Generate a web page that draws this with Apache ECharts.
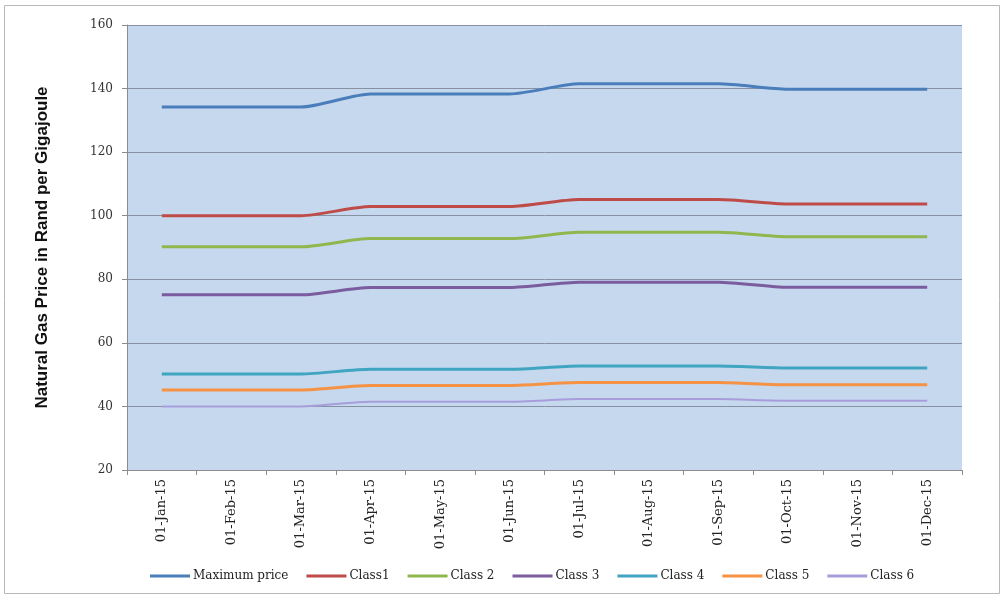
<!DOCTYPE html>
<html><head><meta charset="utf-8">
<script src="https://cdn.jsdelivr.net/npm/echarts@6/dist/echarts.min.js"></script>
<style>html,body{margin:0;padding:0;background:#fff}#c{width:1006px;height:595px}</style>
</head><body><div id="c"></div>
<script>
const categories = ['01-Jan-15','01-Feb-15','01-Mar-15','01-Apr-15','01-May-15','01-Jun-15','01-Jul-15','01-Aug-15','01-Sep-15','01-Oct-15','01-Nov-15','01-Dec-15'];
const maximumPrice = [134.2,134.2,134.2,138.3,138.3,138.3,141.5,141.5,141.5,139.8,139.8,139.8];
const class1 = [100,100,100,102.9,102.9,102.9,105.1,105.1,105.1,103.7,103.7,103.7];
const class2 = [90.2,90.2,90.2,92.8,92.8,92.8,94.8,94.8,94.8,93.4,93.4,93.4];
const class3 = [75.1,75.1,75.1,77.4,77.4,77.4,79.1,79.1,79.1,77.5,77.5,77.5];
const class4 = [50.2,50.2,50.2,51.7,51.7,51.7,52.7,52.7,52.7,52.1,52.1,52.1];
const class5 = [45.2,45.2,45.2,46.6,46.6,46.6,47.5,47.5,47.5,46.8,46.8,46.8];
const class6 = [40.0,40.0,40.0,41.5,41.5,41.5,42.3,42.3,42.3,41.8,41.8,41.8];
const seriesNames = ['Maximum price','Class1','Class 2','Class 3','Class 4','Class 5','Class 6'];
const seriesData = [maximumPrice,class1,class2,class3,class4,class5,class6];
const colors = ['#4a7ebb','#be4b48','#8fb74e','#7a5c9f','#3fa5c0','#f59243','#a79ddb'];
const widths = [3,3,3,3,3,3,2];
const yTicks = {min:20,max:160,interval:20};
const font = '"DejaVu Serif","Liberation Serif",serif';

const chart = echarts.init(document.getElementById('c'), null, {renderer:'canvas'});
chart.setOption({
  animation:false,
  color:colors,
  graphic:[{type:'rect',shape:{x:4.5,y:5.5,width:995,height:588},style:{fill:'none',stroke:'#b8b8b8',lineWidth:1},z:-1}],
  grid:{left:127,right:44,top:25,bottom:125,show:true,backgroundColor:'#c6d8ee',borderWidth:0},
  legend:{
    left:145,bottom:8,itemWidth:40,itemHeight:3,itemGap:18,icon:'rect',
    textStyle:{fontFamily:font,fontSize:12,color:'#222',padding:[0,0,0,-2]},
    data:seriesNames
  },
  xAxis:{
    type:'category',data:categories,boundaryGap:true,
    axisLine:{show:true,lineStyle:{color:'#8c8c8c'}},
    axisTick:{show:true,length:5,alignWithLabel:false,lineStyle:{color:'#8c8c8c'}},
    axisLabel:{rotate:90,interval:0,fontFamily:font,fontSize:13,color:'#222',margin:9}
  },
  yAxis:{
    type:'value',min:yTicks.min,max:yTicks.max,interval:yTicks.interval,
    name:'Natural Gas Price in Rand per Gigajoule',nameLocation:'middle',nameGap:76,nameRotate:90,
    nameTextStyle:{fontFamily:'"Liberation Sans","DejaVu Sans",sans-serif',fontSize:17,fontWeight:'bold',color:'#111'},
    axisLine:{show:true,lineStyle:{color:'#8c8c8c'}},
    axisTick:{show:true,length:5,lineStyle:{color:'#8c8c8c'}},
    axisLabel:{fontFamily:font,fontSize:12,color:'#333',margin:14},
    splitLine:{show:true,lineStyle:{color:'#8692a3',width:1}}
  },
  series:seriesNames.map((n,i)=>({
    name:n,type:'line',data:seriesData[i],smooth:0.25,symbol:'none',
    lineStyle:{width:widths[i],color:colors[i]},itemStyle:{color:colors[i]}
  }))
});
</script></body></html>
